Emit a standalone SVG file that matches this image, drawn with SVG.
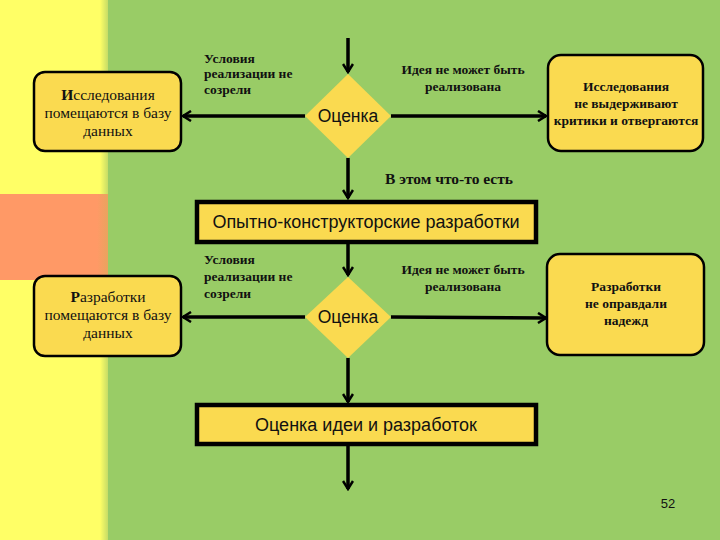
<svg xmlns="http://www.w3.org/2000/svg" width="720" height="540" viewBox="0 0 720 540">
<defs>
<linearGradient id="edge" x1="0" y1="0" x2="1" y2="0">
<stop offset="0" stop-color="#FFFF66"/>
<stop offset="1" stop-color="#C6DC66"/>
</linearGradient>
<linearGradient id="orng" x1="0" y1="0" x2="1" y2="0">
<stop offset="0" stop-color="#FF9966"/>
<stop offset="0.9" stop-color="#FF9966"/>
<stop offset="1" stop-color="#E9A45E"/>
</linearGradient>
<marker id="arr" markerWidth="12" markerHeight="12" refX="10" refY="6" orient="auto" markerUnits="userSpaceOnUse">
<polyline points="2,1 10,6 2,11" fill="none" stroke="#000" stroke-width="2.5"/>
</marker>
</defs>
<style>
.box{fill:#FADA50;stroke:#000;stroke-width:2.5}
.rect{fill:#FADA50;stroke:#000;stroke-width:4.5}
.dia{fill:#FADA50;stroke:none}
.ln{stroke:#000;stroke-width:3.5;fill:none}
.reg{font-family:"Liberation Serif",serif;font-size:15.5px;fill:#111;text-anchor:middle}
.bld{font-family:"Liberation Serif",serif;font-size:13.5px;font-weight:bold;fill:#111}
.sans{font-family:"Liberation Sans",Arial,sans-serif;fill:#111;text-anchor:middle}
</style>
<rect x="0" y="0" width="720" height="540" fill="#99CC66"/>
<rect x="0" y="0" width="100" height="540" fill="#FFFF66"/>
<rect x="100" y="0" width="8" height="540" fill="url(#edge)"/>
<rect x="0" y="194" width="108" height="86" fill="url(#orng)"/>

<g id="connectors">
<line class="ln" x1="348" y1="38" x2="348" y2="72" marker-end="url(#arr)"/>
<line class="ln" x1="305" y1="116" x2="183" y2="116" marker-end="url(#arr)"/>
<line class="ln" x1="391" y1="116" x2="546" y2="116" marker-end="url(#arr)"/>
<line class="ln" x1="348" y1="158" x2="348" y2="198" marker-end="url(#arr)"/>
<line class="ln" x1="348" y1="243" x2="348" y2="275" marker-end="url(#arr)"/>
<line class="ln" x1="305" y1="317" x2="183" y2="317" marker-end="url(#arr)"/>
<line class="ln" x1="391" y1="317" x2="546" y2="318" marker-end="url(#arr)"/>
<line class="ln" x1="348" y1="358" x2="348" y2="402" marker-end="url(#arr)"/>
<line class="ln" x1="348" y1="444" x2="348" y2="489" marker-end="url(#arr)"/>
<text class="bld" x="204" y="63">Условия</text>
<text class="bld" x="204" y="78">реализации не</text>
<text class="bld" x="204" y="94">созрели</text>
<text class="bld" x="463" y="74" text-anchor="middle">Идея не может быть</text>
<text class="bld" x="463" y="91" text-anchor="middle">реализована</text>
<text class="bld" x="385" y="184" style="font-size:15.5px">В этом что-то есть</text>
<text class="bld" x="204" y="264">Условия</text>
<text class="bld" x="204" y="281">реализации не</text>
<text class="bld" x="204" y="298">созрели</text>
<text class="bld" x="463" y="274" text-anchor="middle">Идея не может быть</text>
<text class="bld" x="463" y="291" text-anchor="middle">реализована</text>
</g>

<g id="box-research-db">
<rect class="box" x="34" y="72" width="147" height="79" rx="11"/>
<text class="reg" x="108" y="100"><tspan font-weight="bold">И</tspan>сследования</text>
<text class="reg" x="108" y="118">помещаются в базу</text>
<text class="reg" x="108" y="136">данных</text>
</g>

<g id="diamond-1">
<polygon class="dia" points="348,74 391,116 348,158 305,116"/>
<text class="sans" x="348" y="122" font-size="17.5">Оценка</text>
</g>

<g id="box-research-rejected">
<rect class="box" x="548" y="55" width="155" height="96" rx="13"/>
<text class="bld" x="626" y="91" text-anchor="middle">Исследования</text>
<text class="bld" x="626" y="108" text-anchor="middle">не выдерживают</text>
<text class="bld" x="626" y="125" text-anchor="middle">критики и отвергаются</text>
</g>

<g id="rect-okr">
<rect class="rect" x="197" y="202" width="339" height="40"/>
<text class="sans" x="366" y="228" font-size="18">Опытно-конструкторские разработки</text>
</g>

<g id="diamond-2">
<polygon class="dia" points="348,277 391,317 348,358 305,317"/>
<text class="sans" x="348" y="323" font-size="17.5">Оценка</text>
</g>

<g id="box-dev-db">
<rect class="box" x="34" y="276" width="147" height="80" rx="11"/>
<text class="reg" x="108" y="302"><tspan font-weight="bold">Р</tspan>азработки</text>
<text class="reg" x="108" y="320">помещаются в базу</text>
<text class="reg" x="108" y="338">данных</text>
</g>

<g id="box-dev-failed">
<rect class="box" x="547" y="254" width="157" height="101" rx="13"/>
<text class="bld" x="626" y="291" text-anchor="middle">Разработки</text>
<text class="bld" x="626" y="308" text-anchor="middle">не оправдали</text>
<text class="bld" x="626" y="325" text-anchor="middle">надежд</text>
</g>

<g id="rect-eval">
<rect class="rect" x="197" y="405" width="339" height="39"/>
<text class="sans" x="366" y="431" font-size="18">Оценка идеи и разработок</text>
</g>

<text class="sans" x="668" y="508" font-size="13">52</text>
</svg>
